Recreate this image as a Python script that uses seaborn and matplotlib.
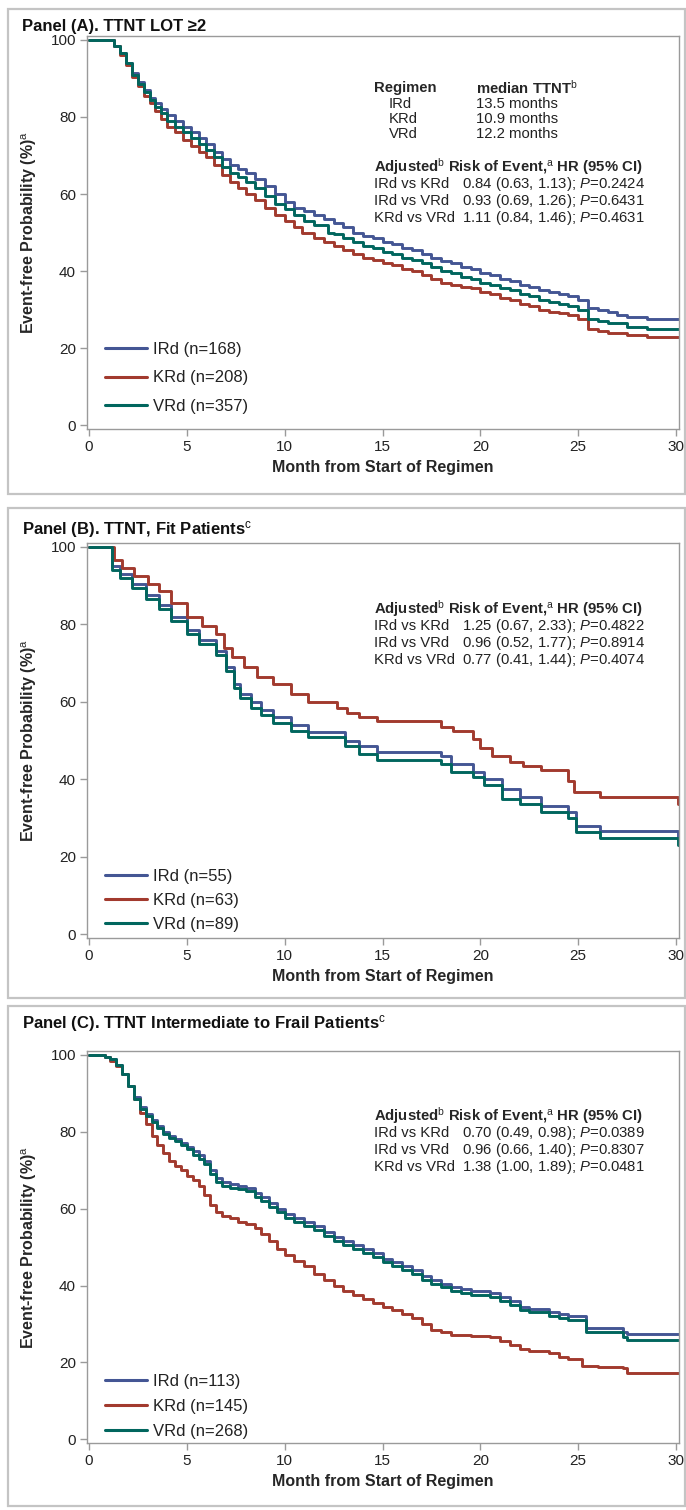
import pandas as pd
import seaborn as sns
import matplotlib.pyplot as plt
from matplotlib.patches import Rectangle

# ---- data (Kaplan-Meier style step curves) ----
regimens = ['IRd', 'KRd', 'VRd']
colors = {'IRd': '#445694', 'KRd': '#A23A2E', 'VRd': '#01665E'}

# Panel A: TTNT LOT >=2
a_ird_t = [0, 1.0, 1.3, 1.6, 1.9, 2.2, 2.5, 2.8, 3.1, 3.4, 3.7, 4.0, 4.4, 4.8, 5.2, 5.6, 6.0, 6.4, 6.8, 7.2,
           7.6, 8.0, 8.5, 9.0, 9.5, 10.0, 10.5, 11.0, 11.5, 12.0, 12.5, 13.0, 13.5, 14.0, 14.5, 15.0, 15.5,
           16.0, 16.5, 17.0, 17.5, 18.0, 18.5, 19.0, 19.5, 20.0, 20.5, 21.0, 21.5, 22.0, 22.5, 23.0, 23.5,
           24.0, 24.5, 25.0, 25.5, 26.0, 26.5, 27.0, 27.5, 28.5, 30.2]
a_ird_s = [100, 100, 98.5, 96.5, 94, 91.5, 89, 87, 85, 83.5, 82, 80.5, 79, 77.5, 76, 74.5, 73, 71, 69, 67.5,
           66.5, 65.5, 64, 62, 60, 58, 56.5, 55.5, 54.5, 53.5, 52.5, 51.5, 50, 49, 48.5, 47.5, 47,
           46, 45.5, 44.5, 43.5, 42.5, 42, 41, 40.5, 39.5, 39, 38, 37.5, 36.5, 36, 35, 34.5,
           34, 33.5, 32.5, 30.5, 30, 29.5, 28.5, 28, 27.5, 27.5]
a_krd_t = [0, 1.0, 1.3, 1.6, 1.9, 2.2, 2.5, 2.8, 3.1, 3.4, 3.7, 4.0, 4.4, 4.8, 5.2, 5.6, 6.0, 6.4, 6.8, 7.2,
           7.6, 8.0, 8.5, 9.0, 9.5, 10.0, 10.5, 10.9, 11.5, 12.0, 12.5, 13.0, 13.5, 14.0, 14.5, 15.0, 15.5,
           16.0, 16.5, 17.0, 17.5, 18.0, 18.5, 19.0, 19.5, 20.0, 20.5, 21.0, 21.5, 22.0, 22.5, 23.0, 23.5,
           24.0, 24.5, 25.0, 25.5, 26.0, 26.5, 27.5, 28.5, 30.2]
a_krd_s = [100, 100, 98.5, 96, 93.5, 90.5, 88, 85.5, 83.5, 81.5, 79.5, 77.5, 76, 74, 72.5, 71, 69.5, 67.5, 65, 63,
           61.5, 60, 58.5, 56.5, 54.5, 53, 51.5, 50, 48.5, 47.5, 46.5, 45.5, 44.5, 43.5, 43, 42, 41.5,
           40.5, 40, 39, 38, 37, 36.5, 36, 35.5, 34.5, 34, 33, 32.5, 31.5, 31, 30, 29.5,
           29, 28.5, 27.5, 25, 24.5, 24, 23.5, 23, 22.5]
a_vrd_t = [0, 1.0, 1.3, 1.6, 1.9, 2.2, 2.5, 2.8, 3.1, 3.4, 3.7, 4.0, 4.4, 4.8, 5.2, 5.6, 6.0, 6.4, 6.8, 7.2,
           7.6, 8.0, 8.5, 9.0, 9.5, 10.0, 10.5, 11.0, 11.5, 12.2, 12.5, 13.0, 13.5, 14.0, 14.5, 15.0, 15.5,
           16.0, 16.5, 17.0, 17.5, 18.0, 18.5, 19.0, 19.5, 20.0, 20.5, 21.0, 21.5, 22.0, 22.5, 23.0, 23.5,
           24.0, 24.5, 25.0, 25.5, 26.0, 26.5, 27.5, 28.5, 30.2]
a_vrd_s = [100, 100, 98.5, 96.5, 94, 91, 88.5, 86.5, 84.5, 82.5, 81, 79, 77.5, 76, 74.5, 73, 71.5, 69.5, 67, 65.5,
           64.5, 63, 61.5, 59.5, 57.5, 56, 54.5, 53, 52, 50, 49.5, 48.5, 47.5, 46.5, 46, 45, 44.5,
           43.5, 43, 42, 41, 40, 39.5, 38.5, 38, 37, 36.5, 35.5, 35, 34, 33.5, 32.5, 32,
           31.5, 31, 30, 27.5, 27, 26.5, 25.5, 25, 25]

# Panel B: fit patients
b_ird_t = [0, 1.2, 1.6, 2.2, 2.9, 3.6, 4.2, 5.0, 5.6, 6.5, 7.0, 7.4, 7.7, 8.3, 8.8, 9.4, 10.3, 11.2, 13.1, 13.8,
           14.7, 18.0, 18.5, 19.6, 20.2, 21.1, 22.0, 23.1, 24.5, 24.9, 26.1, 30.1, 30.2]
b_ird_s = [100, 95, 93, 90.5, 87.5, 85, 82, 78.5, 76, 73, 69, 64.5, 62, 60, 58, 56, 54, 52.3, 50, 48.5,
           47, 46, 44, 42, 40, 37.5, 35.5, 33, 31.5, 28, 26.6, 24.5, 24.5]
b_krd_t = [0, 1.3, 1.7, 2.3, 3.0, 3.6, 4.2, 5.0, 5.8, 6.5, 6.9, 7.3, 7.9, 8.6, 9.4, 10.3, 11.2, 12.7, 13.2, 13.8,
           14.7, 18.0, 18.6, 19.6, 20.0, 20.6, 21.5, 22.2, 23.1, 24.5, 24.8, 26.1, 30.1, 30.2]
b_krd_s = [100, 96.5, 94.5, 92.5, 90.5, 88.5, 85.5, 82, 79.5, 77.5, 74, 71.5, 69, 66.5, 64.5, 62, 60, 58.5, 57, 56,
           55, 53.5, 52.5, 50.5, 48, 46, 44.5, 43.5, 42.3, 39.5, 36.8, 35.5, 33.5, 33.5]
b_vrd_t = [0, 1.2, 1.6, 2.2, 2.9, 3.6, 4.2, 5.0, 5.6, 6.5, 7.0, 7.4, 7.7, 8.3, 8.8, 9.4, 10.3, 11.2, 13.1, 13.8,
           14.7, 18.0, 18.5, 19.6, 20.2, 21.1, 22.0, 23.1, 24.5, 24.9, 26.1, 30.1, 30.2]
b_vrd_s = [100, 94, 92, 89.5, 86.5, 84, 81, 77.5, 75, 72, 68, 63.5, 61, 58.5, 56.5, 54.5, 52.5, 50.8, 48.5, 46.5,
           45, 44, 42, 40.5, 38.5, 35, 33.5, 31.5, 30, 26.5, 24.8, 23, 23]

# Panel C: intermediate to frail patients
c_ird_t = [0, 0.8, 1.1, 1.4, 1.7, 2.0, 2.3, 2.6, 2.9, 3.2, 3.5, 3.8, 4.1, 4.4, 4.7, 5.0, 5.3, 5.6, 5.9, 6.2,
           6.5, 6.8, 7.2, 7.6, 8.0, 8.5, 8.8, 9.2, 9.6, 10.0, 10.5, 11.0, 11.5, 12.0, 12.5, 13.0, 13.5, 14.0,
           14.5, 15.0, 15.5, 16.0, 16.5, 17.0, 17.5, 18.0, 18.5, 19.0, 19.5, 20.5, 21.0, 21.5, 22.0, 22.5,
           23.5, 24.0, 24.5, 25.4, 26.5, 27.3, 27.5, 30.2]
c_ird_s = [100, 99.5, 99, 97.5, 95, 92, 89, 86.5, 84.5, 83, 81.5, 80, 79, 78, 77, 76, 75, 74, 72.5, 70,
           68, 67, 66.5, 66, 65.5, 64, 63, 61.5, 60, 58.5, 57.5, 56.5, 55.5, 54, 52.5, 51.5, 50.5, 49.5,
           48.5, 47, 46, 45, 44, 42.5, 41.5, 40.5, 39.5, 39, 38.5, 38, 37, 36, 34.5, 34,
           33, 32.5, 32, 29, 29, 28, 27.3, 27.3]
c_krd_t = [0, 0.8, 1.1, 1.4, 1.7, 2.0, 2.3, 2.6, 2.9, 3.2, 3.5, 3.8, 4.1, 4.4, 4.7, 5.0, 5.3, 5.6, 5.9, 6.2,
           6.5, 6.8, 7.2, 7.6, 8.0, 8.5, 8.8, 9.2, 9.6, 10.0, 10.5, 11.0, 11.5, 12.0, 12.5, 13.0, 13.5, 14.0,
           14.5, 15.0, 15.5, 16.0, 16.5, 17.0, 17.5, 18.0, 18.5, 19.0, 19.5, 20.5, 21.0, 21.5, 22.0, 22.5,
           23.5, 24.0, 24.5, 25.2, 26.0, 27.3, 27.5, 30.2]
c_krd_s = [100, 99.5, 98.5, 97, 95, 92, 88.5, 85, 82, 79, 76.5, 74.5, 72.5, 71, 70, 68.5, 67.5, 66, 63.5, 61,
           59, 58, 57.5, 56.5, 56, 55, 53.5, 51.5, 49.5, 48, 46.5, 45, 43, 41.5, 40, 38.5, 37.5, 36.5,
           35.5, 34.5, 33.5, 32.5, 31.5, 30, 28.5, 27.8, 27.2, 27, 26.8, 26.5, 25.5, 24.5, 23.5, 23,
           22.5, 21.5, 21, 19, 18.8, 18.5, 17.3, 17.3]
c_vrd_t = [0, 0.8, 1.1, 1.4, 1.7, 2.0, 2.3, 2.6, 2.9, 3.2, 3.5, 3.8, 4.1, 4.4, 4.7, 5.0, 5.3, 5.6, 5.9, 6.2,
           6.5, 6.8, 7.2, 7.6, 8.0, 8.5, 8.8, 9.2, 9.6, 10.0, 10.5, 11.0, 11.5, 12.0, 12.5, 13.0, 13.5, 14.0,
           14.5, 15.0, 15.5, 16.0, 16.5, 17.0, 17.5, 18.0, 18.5, 19.0, 19.5, 20.5, 21.0, 21.5, 22.0, 22.5,
           23.5, 24.0, 24.5, 25.4, 26.5, 27.3, 27.5, 30.2]
c_vrd_s = [100, 99.5, 99, 97.5, 95, 92, 88.5, 86, 84, 82.5, 81, 79.5, 78.5, 77.5, 76.5, 75.5, 74, 73, 71.5, 69,
           67, 66, 65.5, 65, 64.5, 63, 62, 60.5, 59, 57.5, 56.5, 55.5, 54.5, 53, 51.5, 50.5, 49.5, 48.5,
           47.5, 46, 45, 44, 43, 41.5, 40.5, 39.5, 38.5, 38, 37.5, 37, 36, 35, 33.5, 33,
           32, 31.5, 31, 28, 28, 26.5, 25.8, 25.8]

n_a = [168, 208, 357]
n_b = [55, 63, 89]
n_c = [113, 145, 268]

medians_a = ['13.5 months', '10.9 months', '12.2 months']
hr_pairs = ['IRd vs KRd', 'IRd vs VRd', 'KRd vs VRd']
hr_a = ['0.84 (0.63, 1.13); $P$=0.2424', '0.93 (0.69, 1.26); $P$=0.6431', '1.11 (0.84, 1.46); $P$=0.4631']
hr_b = ['1.25 (0.67, 2.33); $P$=0.4822', '0.96 (0.52, 1.77); $P$=0.8914', '0.77 (0.41, 1.44); $P$=0.4074']
hr_c = ['0.70 (0.49, 0.98); $P$=0.0389', '0.96 (0.66, 1.40); $P$=0.8307', '1.38 (1.00, 1.89); $P$=0.0481']

titles = ['Panel (A). TTNT LOT \u22652',
          'Panel (B). TTNT, Fit Patients$^{\\mathrm{c}}$',
          'Panel (C). TTNT Intermediate to Frail Patients$^{\\mathrm{c}}$']

# ---- style ----
sns.set_style('white')
plt.rcParams['font.family'] = ['Liberation Sans', 'DejaVu Sans']
plt.rcParams['mathtext.fontset'] = 'custom'
plt.rcParams['mathtext.rm'] = 'Liberation Sans'
plt.rcParams['mathtext.it'] = 'Liberation Sans:italic'
plt.rcParams['mathtext.bf'] = 'Liberation Sans:bold'
NARROW = ['Liberation Sans Narrow', 'Liberation Sans', 'DejaVu Sans']

W, H = 686, 1510
fig = plt.figure(figsize=(W / 100, H / 100), dpi=100)


def fx(x):
    return x / W


def fy(y):
    return 1 - y / H


def build(series, ns):
    rows = []
    for reg, (t, s), n in zip(regimens, series, ns):
        lab = f'{reg} (n={n})'
        rows += [{'month': a, 'surv': b, 'reg': lab} for a, b in zip(t, s)]
    return pd.DataFrame(rows)


# y100 / y0: pixel rows of the 100 and 0 gridline in each panel
panels = [
    dict(series=[(a_ird_t, a_ird_s), (a_krd_t, a_krd_s), (a_vrd_t, a_vrd_s)], n=n_a, hr=hr_a,
         box=(8, 9, 685, 494), title_y=27, y100=40, y0=433, hdr_y=167, leg_y=0.0, leg_ls=0.82),
    dict(series=[(b_ird_t, b_ird_s), (b_krd_t, b_krd_s), (b_vrd_t, b_vrd_s)], n=n_b, hr=hr_b,
         box=(8, 508, 685, 998), title_y=530, y100=547, y0=942, hdr_y=609, leg_y=-0.023, leg_ls=0.55),
    dict(series=[(c_ird_t, c_ird_s), (c_krd_t, c_krd_s), (c_vrd_t, c_vrd_s)], n=n_c, hr=hr_c,
         box=(8, 1006, 685, 1506), title_y=1024, y100=1055, y0=1447, hdr_y=1116, leg_y=-0.027, leg_ls=0.58),
]

YLO, YHI = -1, 101
for i, p in enumerate(panels):
    x0, y0, x1, y1 = p['box']
    fig.patches.append(Rectangle((fx(x0), fy(y1)), fx(x1 - x0), (y1 - y0) / H, transform=fig.transFigure,
                                 fill=False, edgecolor='#c4c4c4', lw=1.6))
    fig.text(fx(22), fy(p['title_y']), titles[i], fontsize=12, fontweight='bold', family=NARROW,
             va='center', ha='left', color='#111111')

    ppu = (p['y0'] - p['y100']) / 100.0
    top = p['y100'] - (YHI - 100) * ppu
    bot = p['y0'] - (0 - YLO) * ppu
    ax = fig.add_axes([fx(87), fy(bot), fx(679 - 87), (bot - top) / H])
    df = build(p['series'], p['n'])
    pal = {f'{r} (n={n})': colors[r] for r, n in zip(regimens, p['n'])}
    sns.lineplot(data=df, x='month', y='surv', hue='reg', palette=pal, ax=ax, estimator=None,
                 sort=False, drawstyle='steps-post', lw=2.1)

    ax.set_xlim(-0.1, 30.15)
    ax.set_ylim(YLO, YHI)
    ax.set_xticks(range(0, 31, 5))
    ax.set_yticks(range(0, 101, 20))
    for sp in ax.spines.values():
        sp.set_color('#9a9a9a')
        sp.set_linewidth(1.0)
    ax.tick_params(axis='both', direction='out', length=5, width=1, color='#9a9a9a',
                   labelsize=11, labelcolor='#222222', pad=3, left=True, bottom=True)
    for lab in ax.get_xticklabels() + ax.get_yticklabels():
        lab.set_family(NARROW)
    ax.set_xlabel('Month from Start of Regimen', fontsize=11.5, fontweight='bold', family=NARROW,
                  labelpad=4)
    ax.set_ylabel('Event-free Probability (%)$^{\\mathrm{a}}$', fontsize=11.5, fontweight='bold',
                  family=NARROW, labelpad=8)

    leg = ax.legend(loc='lower left', bbox_to_anchor=(0.005, p['leg_y']), frameon=False, fontsize=12,
                    handlelength=2.5, handletextpad=0.4, labelspacing=p['leg_ls'])
    for ln in leg.get_lines():
        ln.set_linewidth(2.2)
    for t in leg.get_texts():
        t.set_color('#222222')

    # annotation block
    fs = 10.7
    y = p['hdr_y']
    tx0, tx1 = 374, 462
    if i == 0:
        ry = 88
        fig.text(fx(tx0), fy(ry), 'Regimen', fontsize=fs, fontweight='bold', va='center')
        fig.text(fx(476), fy(ry), 'median TTNT$^{\\mathrm{b}}$', fontsize=fs, fontweight='bold', va='center')
        for k, reg in enumerate(regimens):
            fig.text(fx(389), fy(ry + 15.5 * (k + 1)), reg, fontsize=fs, va='center', color='#222222')
            fig.text(fx(476), fy(ry + 15.5 * (k + 1)), medians_a[k], fontsize=fs, va='center', color='#222222')
    fig.text(fx(tx0), fy(y), 'Adjusted$^{\\mathrm{b}}$ Risk of Event,$^{\\mathrm{a}}$ HR (95% CI)',
             fontsize=fs, fontweight='bold', va='center')
    for k in range(3):
        fig.text(fx(tx0), fy(y + 17 * (k + 1)), hr_pairs[k], fontsize=fs, va='center', color='#222222')
        fig.text(fx(tx1), fy(y + 17 * (k + 1)), p['hr'][k], fontsize=fs, va='center', color='#222222')

fig.savefig('out.png', dpi=100)
